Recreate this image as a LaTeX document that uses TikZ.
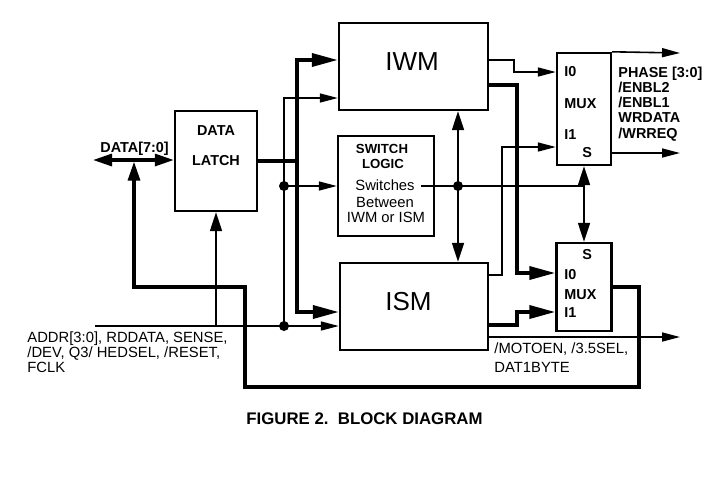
\documentclass[tikz,border=0pt]{standalone}
\usepackage{fontspec}
\setmainfont{Liberation Sans}
\usetikzlibrary{arrows.meta}
\tikzset{
  blk/.style={draw,line width=1.2pt,inner sep=0pt},
  wire/.style={line width=0.8pt},
  dbus/.style={line width=1.6pt},
  bus/.style={line width=1.8pt},
  lbl/.style={inner sep=0pt,anchor=base west,font=\fontsize{7.4}{8}\selectfont},
  bl/.style={lbl,font=\fontsize{7.2}{8}\selectfont\bfseries},
  big/.style={lbl,font=\fontsize{13}{15}\selectfont},
  sa/.tip={Triangle[length=9pt,width=4.5pt]},
  ma/.tip={Triangle[length=9.5pt,width=6pt]},
  la/.tip={Triangle[length=13pt,width=6.5pt]}
}
\begin{document}
\begin{tikzpicture}[x=0.5pt,y=-0.5pt]
	\useasboundingbox (0,0) rectangle (726,483);
	\node[blk,minimum width=41pt,minimum height=50pt] (latch) at (216,161) {};
	\node[blk,minimum width=74.5pt,minimum height=43.5pt] (iwm) at (413.5,66.5) {};
	\node[blk,minimum width=48pt,minimum height=50pt] (sw) at (386,186) {};
	\node[blk,minimum width=74pt,minimum height=43.5pt] (ism) at (414,306.5) {};
	\node[blk,minimum width=27pt,minimum height=56pt] (muxa) at (584,109) {};
	\node[blk,minimum width=27.5pt,minimum height=44pt] (muxb) at (584,287) {};

	\node[bl,anchor=base] at (216,135) {DATA};
	\node[bl,anchor=base] at (216,165) {LATCH};
	\node[bl] at (100,152) {DATA[7:0]};
	\node[big] at (385,70) {IWM};
	\node[big] at (385,310) {ISM};
	\node[bl,anchor=base,font=\fontsize{6.6}{8}\selectfont\bfseries] at (382,153) {SWITCH};
	\node[bl,anchor=base,font=\fontsize{6.6}{8}\selectfont\bfseries] at (383,168) {LOGIC};
	\node[lbl,anchor=base] (swt) at (385,190) {Switches};
	\node[lbl,anchor=base] at (385,207) {Between};
	\node[lbl,anchor=base] at (386,222) {IWM or ISM};

	\node[bl] at (564,76) {I0};
	\node[bl] at (564,108) {MUX};
	\node[bl] at (564,139) {I1};
	\node[bl] at (582,157) {S};
	\node[bl] at (582,259) {S};
	\node[bl] at (564,279) {I0};
	\node[bl] at (564,299) {MUX};
	\node[bl] at (564,317) {I1};
	\foreach \t [count=\i] in {PHASE [3:0],/ENBL2,/ENBL1,WRDATA,/WRREQ}
		\node[bl] at (618,{77+15.25*(\i-1)}) {\t};

	\node[lbl] at (27,342) {ADDR[3:0], RDDATA, SENSE,};
	\node[lbl] at (27,357) {/DEV, Q3/ HEDSEL, /RESET,};
	\node[lbl] at (27,372) {FCLK};
	\node[lbl] at (494,353) {/MOTOEN, /3.5SEL,};
	\node[lbl] at (494,372) {DAT1BYTE};
	\node[lbl,font=\fontsize{8.4}{10}\selectfont\bfseries] at (246,424) {FIGURE 2.\ \ BLOCK DIAGRAM};

	\coordinate (dl) at (93,160);
	\coordinate (dj) at (134,160);
	\coordinate (ad) at (95,326);
	\coordinate (aj) at (284,326);
	\coordinate (ai) at (284,98);
	\coordinate (ak) at (284,186);
	\coordinate (sj) at (458,186);
	\coordinate (bt) at (297,60);
	\coordinate (bb) at (297,312);

	\draw[dbus,ma-ma] (dl) -- (dl -| latch.west);
	\draw[dbus,-ma,shorten >=0.8pt] (muxb.east) -| (639,387) -| (245,287) -| (dj);
	\draw[wire,-sa] (ad) -- (ad -| ism.west);
	\draw[wire,-ma] (ad -| latch.south) -- (latch.south);
	\draw[wire,-sa] (aj) -- (ai) -- (ai -| iwm.west);
	\draw[wire,-sa] (ak) -- (ak -| sw.west);
	\fill (aj) circle (2.5pt);
	\fill (ak) circle (2.5pt);
	\draw[bus] (latch.east) -- (latch.east -| bt);
	\draw[bus,la-la] (bt -| iwm.west) -- (bt) -- (bb) -- (bb -| ism.west);

	\draw[wire,-sa] (iwm.east |- 0,60) -- (514,60) |- (muxa.west |- 0,72);
	\draw[bus,-la] (iwm.east |- 0,85) -| (517,273) -- (muxb.west |- 0,273);
	\draw[wire,-sa] (ism.east |- 0,275) -| (502,147) -- (muxa.west |- 0,147);
	\draw[bus,-la] (ism.east |- 0,325) -| (517,312) -- (muxb.west |- 0,312);
	\draw[wire,-sa] (ism.east |- 0,337) -- (680,337);
	\draw[wire,-sa] (muxa.north east) -- (680,53);
	\draw[wire,-sa] (muxa.east |- 0,153) -- (680,153);

	\draw[wire,ma-ma] (sj |- iwm.south) -- (sj |- ism.north);
	\fill (sj) circle (2.5pt);
	\draw[wire] ([xshift=3pt]sj -| swt.east) -- (sj -| muxa.south);
	\draw[wire,ma-ma] (muxa.south) -- (muxb.north);
\end{tikzpicture}
\end{document}
